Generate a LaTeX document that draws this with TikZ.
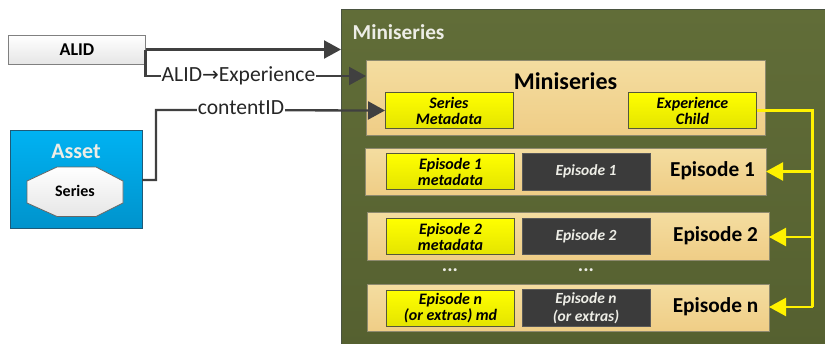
\documentclass[tikz,border=0pt]{standalone}
\usepackage{fontspec}
\setmainfont{Carlito}
\newfontfamily\symfont{DejaVu Sans}
\usetikzlibrary{arrows.meta,calc}
\definecolor{olivetop}{HTML}{616D38}
\definecolor{olivebot}{HTML}{556030}
\definecolor{olivedge}{HTML}{4A5340}
\definecolor{tantop}{HTML}{F4DDA0}
\definecolor{tanbot}{HTML}{EFCD86}
\definecolor{tanedge}{HTML}{8E8A6E}
\definecolor{yeltop}{HTML}{FFFF00}
\definecolor{yelbot}{HTML}{E4E400}
\definecolor{yeledge}{HTML}{55583A}
\definecolor{darkbox}{HTML}{3B3B3B}
\definecolor{bluetop}{HTML}{00B2F2}
\definecolor{bluebot}{HTML}{0093CC}
\definecolor{blueedge}{HTML}{1F5A78}
\definecolor{linecol}{HTML}{404040}
\definecolor{greytop}{HTML}{FFFFFF}
\definecolor{greybot}{HTML}{E6E6E6}
\definecolor{softwhite}{HTML}{EDEDE6}
\tikzset{
  x=1pt,y=-1pt,
  wh/.style 2 args={minimum width=#1pt,minimum height=#2pt},
  box/.style={anchor=north west,inner sep=0pt,outer sep=0pt,line width=0.8pt,align=center},
  outerbox/.style={box,draw=olivedge,top color=olivetop,bottom color=olivebot},
  tanbox/.style={box,draw=tanedge,top color=tantop,bottom color=tanbot},
  yelbox/.style={box,draw=yeledge,top color=yeltop,bottom color=yelbot,font=\fontsize{16}{16}\selectfont\bfseries\itshape,text=black},
  darkb/.style={box,draw=gray!70!black,line width=0.4pt,fill=darkbox,font=\fontsize{15.5}{18}\selectfont\bfseries\itshape,text=softwhite},
  alidbox/.style={box,draw=gray,top color=greytop,bottom color=greybot,font=\fontsize{18}{20}\selectfont\bfseries},
  assetbox/.style={box,draw=blueedge,top color=bluetop,bottom color=bluebot},
  epi/.style={font=\fontsize{21.3}{23}\selectfont\bfseries,text=black,inner sep=0pt},
  wire/.style={draw=linecol,line width=2.3pt,-{Triangle[length=17pt,width=18pt]}},
  ywire/.style={draw=yellow,line width=2.3pt},
  yarrow/.style={draw=yellow,line width=2.3pt,-{Triangle[length=17pt,width=18pt]}},
  lab/.style={font=\fontsize{21.6}{23}\selectfont,fill=white,inner xsep=1pt,inner ysep=1pt,text=black!85},
  dots/.style={font=\fontsize{20}{20}\selectfont\bfseries,text=softwhite,inner sep=0pt},
}
\begin{document}
\begin{tikzpicture}
\useasboundingbox (0,0) rectangle (825,343);
\clip (0,0) rectangle (825,343);
% outer container
\node[outerbox,wh={490}{340}] (outer) at (341,9.5) {};
\node[anchor=west,inner sep=0pt,font=\fontsize{21.3}{23}\selectfont\bfseries,text=softwhite] (outertitle) at (352.5,32.5) {Miniseries};
% left
\node[alidbox,wh={137}{29}] (alid) at (8.5,35) {ALID};
\node[assetbox,wh={132}{98}] (asset) at (10,130.5) {};
\node[inner sep=0pt,font=\fontsize{22}{24}\selectfont\bfseries,text=softwhite] (assettitle) at (76,151) {Asset};
\draw[draw=gray!80!black,line width=0.8pt,top color=greytop,bottom color=greybot]
  (57,167) -- (96,167) -- (123,181) -- (123,203) -- (96,216.5) -- (57,216.5) -- (27,203) -- (27,181) -- cycle;
\node[inner sep=0pt,font=\fontsize{16}{18}\selectfont\bfseries] (series) at (75,191) {Series};
% Miniseries box
\node[tanbox,wh={399}{75}] (mini) at (366,60) {};
\node[inner sep=0pt,font=\fontsize{24}{26}\selectfont\bfseries] (minititle) at (565.5,81) {Miniseries};
\node[yelbox,wh={128}{36}] (smeta) at (385,92.5) {Series\\Metadata};
\node[yelbox,wh={128}{36}] (echild) at (628.5,92.5) {Experience\\Child};
% Episode 1
\node[tanbox,wh={401}{47}] (ep1) at (365,148) {};
\node[yelbox,wh={128}{36}] (y1) at (386.5,153.5) {Episode 1\\metadata};
\node[darkb,wh={128}{36.5}] (d1) at (522,153.5) {Episode 1};
\node[epi] (t1) at (712.5,171) {Episode 1};
% Episode 2
\node[tanbox,wh={401.5}{47.5}] (ep2) at (367.5,212.5) {};
\node[yelbox,wh={128}{36}] (y2) at (386.5,218.5) {Episode 2\\metadata};
\node[darkb,wh={128}{36.5}] (d2) at (522,218) {Episode 2};
\node[epi] (t2) at (715.5,236) {Episode 2};
% dots
\node[dots] (dotsa) at (450,270) {...};
\node[dots] (dotsb) at (586,270) {...};
% Episode n
\node[tanbox,wh={401.5}{47}] (epn) at (367.5,284.5) {};
\node[yelbox,wh={128}{36}] (yn) at (386.5,290) {Episode n\\(or extras) md};
\node[darkb,wh={128}{36.5}] (dn) at (522,289.5) {Episode n\\(or extras)};
\node[epi] (tn) at (715.5,307) {Episode n};
% connectors
\coordinate (aout) at (145.5,49.5);
\coordinate (abend) at (145.5,76);
\coordinate (cbend) at (156,110);
\coordinate (cstart) at (156,180);
\draw[wire] (aout) -- (outer.west |- aout);
\draw[wire] (aout) -- (abend) -- (mini.west |- abend);
\draw[wire] (asset.east |- cstart) -- (cstart) -- (cbend) -- (smeta.west);
\node[lab] (l1) at (238.5,75.5) {ALID{\symfont\fontsize{20}{20}\selectfont →}Experience};
\node[lab] (l2) at (241,108) {contentID};
% yellow
\coordinate (ycorner) at (812.5,110.5);
\coordinate (ybottom) at (812.5,307);
\coordinate (yone) at (812.5,171.5);
\coordinate (ytwo) at (812.5,237);
\draw[ywire] (echild.east |- ycorner) -- (ycorner) -- (ybottom);
\draw[yarrow] (yone) -- (ep1.east |- yone);
\draw[yarrow] (ytwo) -- (ep2.east |- ytwo);
\draw[yarrow] (ybottom) -- (epn.east |- ybottom);
\end{tikzpicture}
\end{document}
